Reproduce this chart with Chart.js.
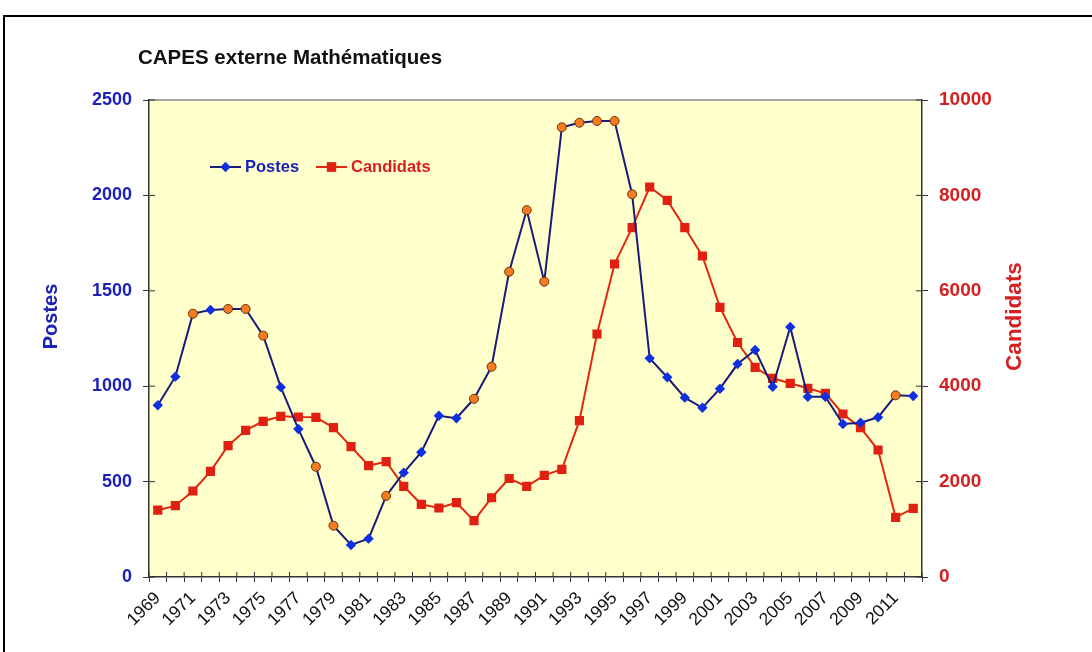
<!DOCTYPE html>
<html>
<head>
<meta charset="utf-8">
<title>CAPES externe Mathématiques</title>
<script src="https://cdn.jsdelivr.net/npm/chart.js@4.4.1/dist/chart.umd.min.js"></script>
<style>
  html, body { margin: 0; padding: 0; background: #fff; overflow: hidden; }
  #wrap  { position: relative; width: 1092px; height: 652px; }
  #frame { position: absolute; left: 3px; top: 15px; width: 1200px; height: 800px; border: 2px solid #000; pointer-events: none; }
  canvas { position: absolute; left: 0; top: 0; }
</style>
</head>
<body>
<div id="wrap">
  <canvas id="capesChart" width="1092" height="652"></canvas>
  <div id="frame"></div>
</div>
<script>
// ── Data ──────────────────────────────────────────────────────
const years = [
  1969, 1970, 1971, 1972, 1973, 1974, 1975, 1976, 1977, 1978,
  1979, 1980, 1981, 1982, 1983, 1984, 1985, 1986, 1987, 1988,
  1989, 1990, 1991, 1992, 1993, 1994, 1995, 1996, 1997, 1998,
  1999, 2000, 2001, 2002, 2003, 2004, 2005, 2006, 2007, 2008,
  2009, 2010, 2011, 2012
];
const postes = [
  900, 1050, 1380, 1400, 1405, 1405, 1265, 995, 776, 578,
  269, 168, 201, 425, 547, 654, 845, 832, 934, 1102,
  1600, 1923, 1548, 2357, 2381, 2390, 2390, 2006, 1146, 1047,
  940, 887, 987, 1116, 1190, 997, 1310, 945, 945, 802,
  809, 837, 952, 949
];
const candidats = [
  1400, 1495, 1803, 2216, 2753, 3075, 3264, 3369, 3354, 3348,
  3130, 2732, 2333, 2417, 1901, 1524, 1447, 1558, 1180, 1662,
  2065, 1901, 2132, 2258, 3277, 5094, 6562, 7323, 8176, 7897,
  7323, 6729, 5654, 4916, 4396, 4166, 4061, 3956, 3851, 3417,
  3130, 2662, 1252, 1440
];
// years whose Postes marker is an orange dot
const highlightYears = [1971, 1973, 1974, 1975, 1978, 1979, 1982, 1987, 1988,
                        1989, 1990, 1991, 1992, 1993, 1994, 1995, 1996, 2011];

// ── Styles ────────────────────────────────────────────────────
const FONT      = "'Liberation Sans', Arial, sans-serif";
const BLUE_TXT  = '#1c22b8';
const RED_TXT   = '#d42020';
const BLUE_LINE = '#1a1a78';
const BLUE_MARK = '#1030e0';
const RED_LINE  = '#e02a10';
const RED_MARK  = '#e02010';
const ORANGE    = '#f57a22';
const ORANGE_BD = '#6a3510';
const AXIS_COL  = '#333';

const isHi = years.map(y => highlightYears.includes(y));

// ── Decorations: plot fill, inward ticks, titles, legend ──────
const decor = {
  id: 'decor',
  beforeDraw(chart) {
    const { ctx, chartArea: a } = chart;
    ctx.save();
    ctx.fillStyle = '#ffffcc';
    ctx.fillRect(a.left, a.top, a.right - a.left, a.bottom - a.top);
    ctx.strokeStyle = '#8a8a8a';
    ctx.lineWidth = 1.5;
    ctx.beginPath(); ctx.moveTo(a.left, a.top); ctx.lineTo(a.right, a.top); ctx.stroke();
    ctx.restore();
  },
  afterDraw(chart) {
    const { ctx, chartArea: a, scales } = chart;
    ctx.save();
    // inward half of the crossing tick marks
    ctx.strokeStyle = AXIS_COL; ctx.lineWidth = 1;
    ctx.beginPath();
    scales.y.ticks.forEach(t => { const p = scales.y.getPixelForValue(t.value); ctx.moveTo(a.left, p); ctx.lineTo(a.left + 6, p); });
    scales.y2.ticks.forEach(t => { const p = scales.y2.getPixelForValue(t.value); ctx.moveTo(a.right, p); ctx.lineTo(a.right - 6, p); });
    for (let i = 0; i <= years.length; i++) {
      const p = scales.x.getPixelForValue(i - 0.5);
      ctx.moveTo(p, a.bottom); ctx.lineTo(p, a.bottom - 5);
    }
    ctx.stroke();

    // chart title
    ctx.fillStyle = '#111';
    ctx.font = `bold 20.5px ${FONT}`;
    ctx.textAlign = 'left'; ctx.textBaseline = 'middle';
    ctx.fillText('CAPES externe Mathématiques', 138, 58);

    // axis titles (both read bottom to top)
    const midY = (a.top + a.bottom) / 2 - 22;
    [['Postes', 51, BLUE_TXT, 20], ['Candidats', 1015, RED_TXT, 22.5]].forEach(([txt, x, col, sz]) => {
      ctx.save();
      ctx.translate(x, midY);
      ctx.rotate(-Math.PI / 2);
      ctx.fillStyle = col;
      ctx.font = `bold ${sz}px ${FONT}`;
      ctx.textAlign = 'center'; ctx.textBaseline = 'middle';
      ctx.fillText(txt, 0, 0);
      ctx.restore();
    });

    // legend
    const ly = 167;
    const items = [
      { x: 210, label: 'Postes',    line: BLUE_LINE, mark: BLUE_MARK, style: 'rectRot', r: 5,   col: BLUE_TXT },
      { x: 316, label: 'Candidats', line: RED_LINE,  mark: RED_MARK,  style: 'rect',    r: 6.5, col: RED_TXT },
    ];
    items.forEach(it => {
      ctx.strokeStyle = it.line; ctx.lineWidth = 2;
      ctx.beginPath(); ctx.moveTo(it.x, ly); ctx.lineTo(it.x + 31, ly); ctx.stroke();
      ctx.fillStyle = it.mark;
      Chart.helpers.drawPoint(ctx, { pointStyle: it.style, radius: it.r, rotation: 0, borderWidth: 0 }, it.x + 15.5, ly);
      ctx.fill();
      ctx.fillStyle = it.col;
      ctx.font = `bold 16.5px ${FONT}`;
      ctx.textAlign = 'left'; ctx.textBaseline = 'middle';
      ctx.fillText(it.label, it.x + 35, ly);
    });
    ctx.restore();
  }
};

// ── Chart ─────────────────────────────────────────────────────
new Chart(document.getElementById('capesChart'), {
  type: 'line',
  data: {
    labels: years,
    datasets: [
      {
        label: 'Postes', data: postes, yAxisID: 'y',
        borderColor: BLUE_LINE, borderWidth: 2, tension: 0,
        pointStyle: isHi.map(h => h ? 'circle' : 'rectRot'),
        pointRadius: isHi.map(h => h ? 4.5 : 5.2),
        pointBackgroundColor: isHi.map(h => h ? ORANGE : BLUE_MARK),
        pointBorderColor: isHi.map(h => h ? ORANGE_BD : BLUE_MARK),
        pointBorderWidth: isHi.map(h => h ? 1 : 0),
      },
      {
        label: 'Candidats', data: candidats, yAxisID: 'y2',
        borderColor: RED_LINE, borderWidth: 2, tension: 0,
        pointStyle: 'rect', pointRadius: 6.5,
        pointBackgroundColor: RED_MARK, pointBorderColor: RED_MARK, pointBorderWidth: 0,
      }
    ]
  },
  options: {
    responsive: false, animation: false,
    layout: { padding: { top: 100, left: 0, right: 0, bottom: 0 } },
    plugins: { legend: { display: false }, tooltip: { enabled: false } },
    scales: {
      x: {
        offset: true,
        afterFit: s => { s.height = 75; },
        border: { color: AXIS_COL, width: 1.5 },
        grid: { offset: true, drawOnChartArea: false, tickLength: 5, color: AXIS_COL },
        ticks: {
          autoSkip: false, minRotation: 45, maxRotation: 45, padding: 6,
          color: '#111', font: { family: FONT, size: 17.5 },
          callback: (v, i) => i % 2 === 0 ? String(years[i]) : ''
        }
      },
      y: {
        position: 'left', min: 0, max: 2500,
        afterFit: s => { s.width = 149; },
        border: { color: AXIS_COL, width: 1.5 },
        grid: { drawOnChartArea: false, tickLength: 6, color: AXIS_COL },
        ticks: { stepSize: 500, padding: 11, color: BLUE_TXT, font: { family: FONT, size: 18, weight: 'bold' },
                 callback: v => String(v) }
      },
      y2: {
        position: 'right', min: 0, max: 10000,
        afterFit: s => { s.width = 170; },
        border: { color: AXIS_COL, width: 1.5 },
        grid: { drawOnChartArea: false, tickLength: 6, color: AXIS_COL },
        ticks: { stepSize: 2000, padding: 11, color: RED_TXT, font: { family: FONT, size: 19, weight: 'bold' },
                 callback: v => String(v) }
      }
    }
  },
  plugins: [decor]
});
</script>
</body>
</html>
